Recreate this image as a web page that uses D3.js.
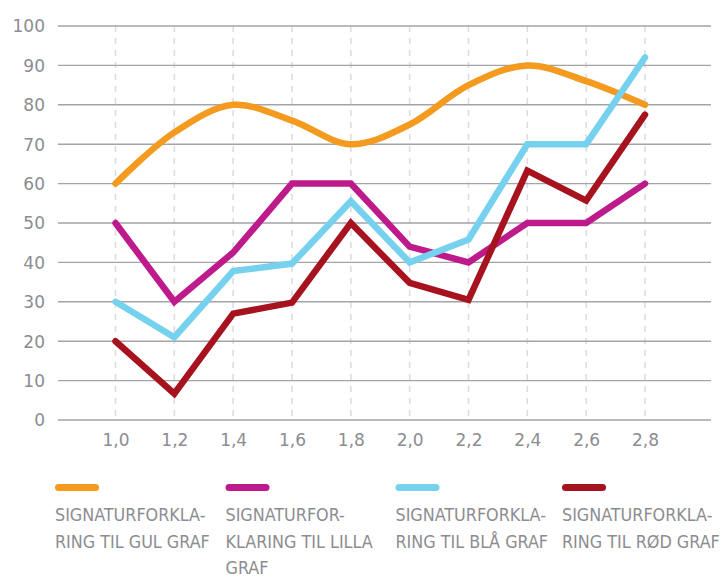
<!DOCTYPE html>
<html>
<head>
<meta charset="utf-8">
<script src="https://cdn.jsdelivr.net/npm/d3@7"></script>
<style>
  html, body { margin: 0; padding: 0; background: #fff; }
  svg { display: block; }
  .tick-label { font-family: "DejaVu Sans", sans-serif; font-size: 17px; fill: #8c8c91; }
  .legend-label { font-family: "Liberation Sans Narrow", "DejaVu Sans Condensed", "Arial Narrow", sans-serif; font-size: 17.8px; fill: #8c8c91; }
</style>
</head>
<body>
<svg id="chart" width="724" height="577"></svg>
<script>
// Categories on the x axis
const xValues = [1.0, 1.2, 1.4, 1.6, 1.8, 2.0, 2.2, 2.4, 2.6, 2.8];
const xTickLabels = ["1,0", "1,2", "1,4", "1,6", "1,8", "2,0", "2,2", "2,4", "2,6", "2,8"];
const yTicks = [0, 10, 20, 30, 40, 50, 60, 70, 80, 90, 100];

// Series values
const gulValues   = [60, 73, 80, 76, 70, 75, 85, 90, 86, 80];
const lillaValues = [50, 30, 42.5, 60, 60, 44, 40, 50, 50, 60];
const blaValues   = [30, 21, 37.8, 39.7, 55.5, 40, 45.8, 70, 70, 92];
const rodValues   = [20, 6.7, 27, 29.8, 50, 34.8, 30.5, 63.3, 55.7, 77.5];

const seriesNames = ["gul", "lilla", "bla", "rod"];
const seriesColors = ["#f39a1f", "#bd1a8b", "#76d1ee", "#a6131e"];
const legendLabels = [
  ["SIGNATURFORKLA-", "RING TIL GUL GRAF"],
  ["SIGNATURFOR-", "KLARING TIL LILLA", "GRAF"],
  ["SIGNATURFORKLA-", "RING TIL BLÅ GRAF"],
  ["SIGNATURFORKLA-", "RING TIL RØD GRAF"]
];

const series = [
  { name: seriesNames[0], values: gulValues,   color: seriesColors[0], curve: d3.curveCatmullRom },
  { name: seriesNames[1], values: lillaValues, color: seriesColors[1], curve: d3.curveLinear },
  { name: seriesNames[2], values: blaValues,   color: seriesColors[2], curve: d3.curveLinear },
  { name: seriesNames[3], values: rodValues,   color: seriesColors[3], curve: d3.curveLinear }
];

const svg = d3.select("#chart");

const plot = { left: 58, right: 711, top: 26, bottom: 420 };

const x = d3.scaleLinear().domain([1.0, 2.8]).range([115.5, 645]);
const y = d3.scaleLinear().domain([0, 100]).range([plot.bottom, plot.top]);

// Vertical dashed guides at each category
svg.append("g")
  .selectAll("line")
  .data(xValues)
  .join("line")
  .attr("x1", d => x(d)).attr("x2", d => x(d))
  .attr("y1", plot.top).attr("y2", plot.bottom)
  .attr("stroke", "#dcdcdf")
  .attr("stroke-width", 1.5)
  .attr("stroke-dasharray", "6,6");

// Horizontal gridlines
svg.append("g")
  .selectAll("line")
  .data(yTicks)
  .join("line")
  .attr("x1", plot.left).attr("x2", plot.right)
  .attr("y1", d => y(d)).attr("y2", d => y(d))
  .attr("stroke", "#a3a3a8")
  .attr("stroke-width", 1.4);

// Y axis labels
const yAxis = d3.axisLeft(y).tickValues(yTicks).tickSize(0).tickPadding(0).tickFormat(d3.format("d"));
svg.append("g")
  .attr("transform", `translate(45,0)`)
  .call(yAxis)
  .call(g => g.select(".domain").remove())
  .call(g => g.selectAll("text").attr("class", "tick-label").attr("fill", null).attr("font-family", null).attr("font-size", null).attr("dy", "0.35em"));

// X axis labels
const xAxis = d3.axisBottom(x).tickValues(xValues).tickSize(0).tickPadding(0)
  .tickFormat((d, i) => xTickLabels[i]);
svg.append("g")
  .attr("transform", `translate(0,446)`)
  .call(xAxis)
  .call(g => g.select(".domain").remove())
  .call(g => g.selectAll("text").attr("class", "tick-label").attr("fill", null).attr("font-family", null).attr("font-size", null).attr("dy", "0"));

// Series lines
svg.append("g")
  .selectAll("path")
  .data(series)
  .join("path")
  .attr("fill", "none")
  .attr("stroke", d => d.color)
  .attr("stroke-width", 6.5)
  .attr("stroke-linecap", "round")
  .attr("stroke-linejoin", "miter")
  .attr("d", s => d3.line()
      .x((v, i) => x(xValues[i]))
      .y(v => y(v))
      .curve(s.curve)(s.values));

// Legend
const legendX = [55, 225.5, 395.5, 562];
const legend = svg.append("g")
  .selectAll("g")
  .data(series)
  .join("g")
  .attr("transform", (d, i) => `translate(${legendX[i]},0)`);

legend.append("line")
  .attr("x1", 3.5).attr("x2", 40.5)
  .attr("y1", 487.5).attr("y2", 487.5)
  .attr("stroke", d => d.color)
  .attr("stroke-width", 7)
  .attr("stroke-linecap", "round");

legend.each(function(d, i) {
  const t = d3.select(this).append("text").attr("class", "legend-label");
  legendLabels[i].forEach((line, j) => {
    t.append("tspan").attr("x", 0).attr("y", 521.3 + j * 26.2).text(line);
  });
});
</script>
</body>
</html>
